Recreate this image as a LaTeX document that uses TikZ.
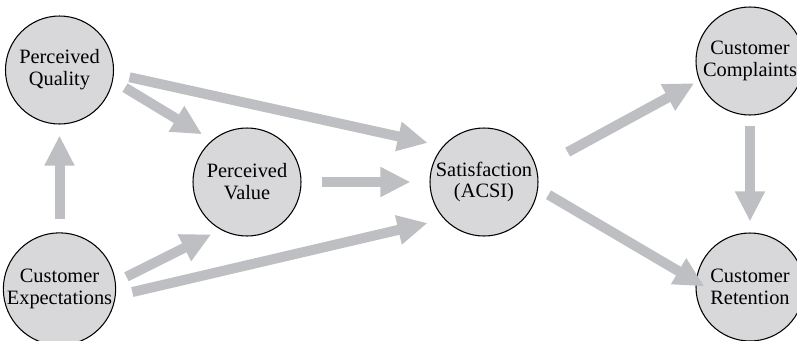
\documentclass[tikz,border=0pt]{standalone}
\usepackage{fontspec}
\setmainfont{Liberation Serif}
\usetikzlibrary{arrows.meta, positioning, calc}
\definecolor{nodefill}{RGB}{216, 216, 218}
\definecolor{arrowgray}{RGB}{190, 191, 194}

\begin{document}
\begin{tikzpicture}[
    factor/.style={circle, draw=black, line width=0.6pt, fill=nodefill, minimum size=2.16cm,
          inner sep=0pt, align=center, font=\fontsize{11.6}{12.5}\selectfont},
    flow/.style={draw=arrowgray, line width=0.2cm, -{Triangle[width=0.56cm, length=0.6cm]}}
]
    \useasboundingbox (0,0) rectangle (15.94,6.8);

    \node[factor] (quality) at (1.19,5.4) {Perceived\\Quality};
    \node[factor] (expect) at (1.19,1.02) {Customer\\Expectations};
    \node[factor] (value) at (4.94,3.16) {Perceived\\Value};
    \node[factor] (satisfaction) at (9.68,3.16) {Satisfaction\\(ACSI)};
    \node[factor] (complaints) at (15.0,5.58) {Customer\\Complaints};
    \node[factor] (retention) at (15.0,1.06) {Customer\\Retention};

    \draw[flow, shorten <=0.32cm, shorten >=0.31cm] (quality.-4) -- (satisfaction.139);
    \draw[flow, shorten <=0.28cm, shorten >=0.23cm] (quality.-11) -- (value.130);
    \draw[flow, shorten <=0.26cm, shorten >=0.22cm] (expect) -- (quality);
    \draw[flow, shorten <=0.24cm, shorten >=0.21cm] (expect.7) -- (value.-119);
    \draw[flow, shorten <=0.34cm, shorten >=0.34cm] (expect.-7) -- (satisfaction.-137);
    \draw[flow, shorten <=0.4cm, shorten >=0.38cm] (value) -- (satisfaction);
    \draw[flow, shorten <=0.7cm, shorten >=0.11cm] (satisfaction.14) -- (complaints.-159);
    \draw[flow, shorten <=0.24cm, shorten >=-0.2cm] (satisfaction.-7) -- (retention.174);
    \draw[flow, shorten <=0.2cm, shorten >=0.22cm] (complaints) -- (retention);
\end{tikzpicture}
\end{document}
